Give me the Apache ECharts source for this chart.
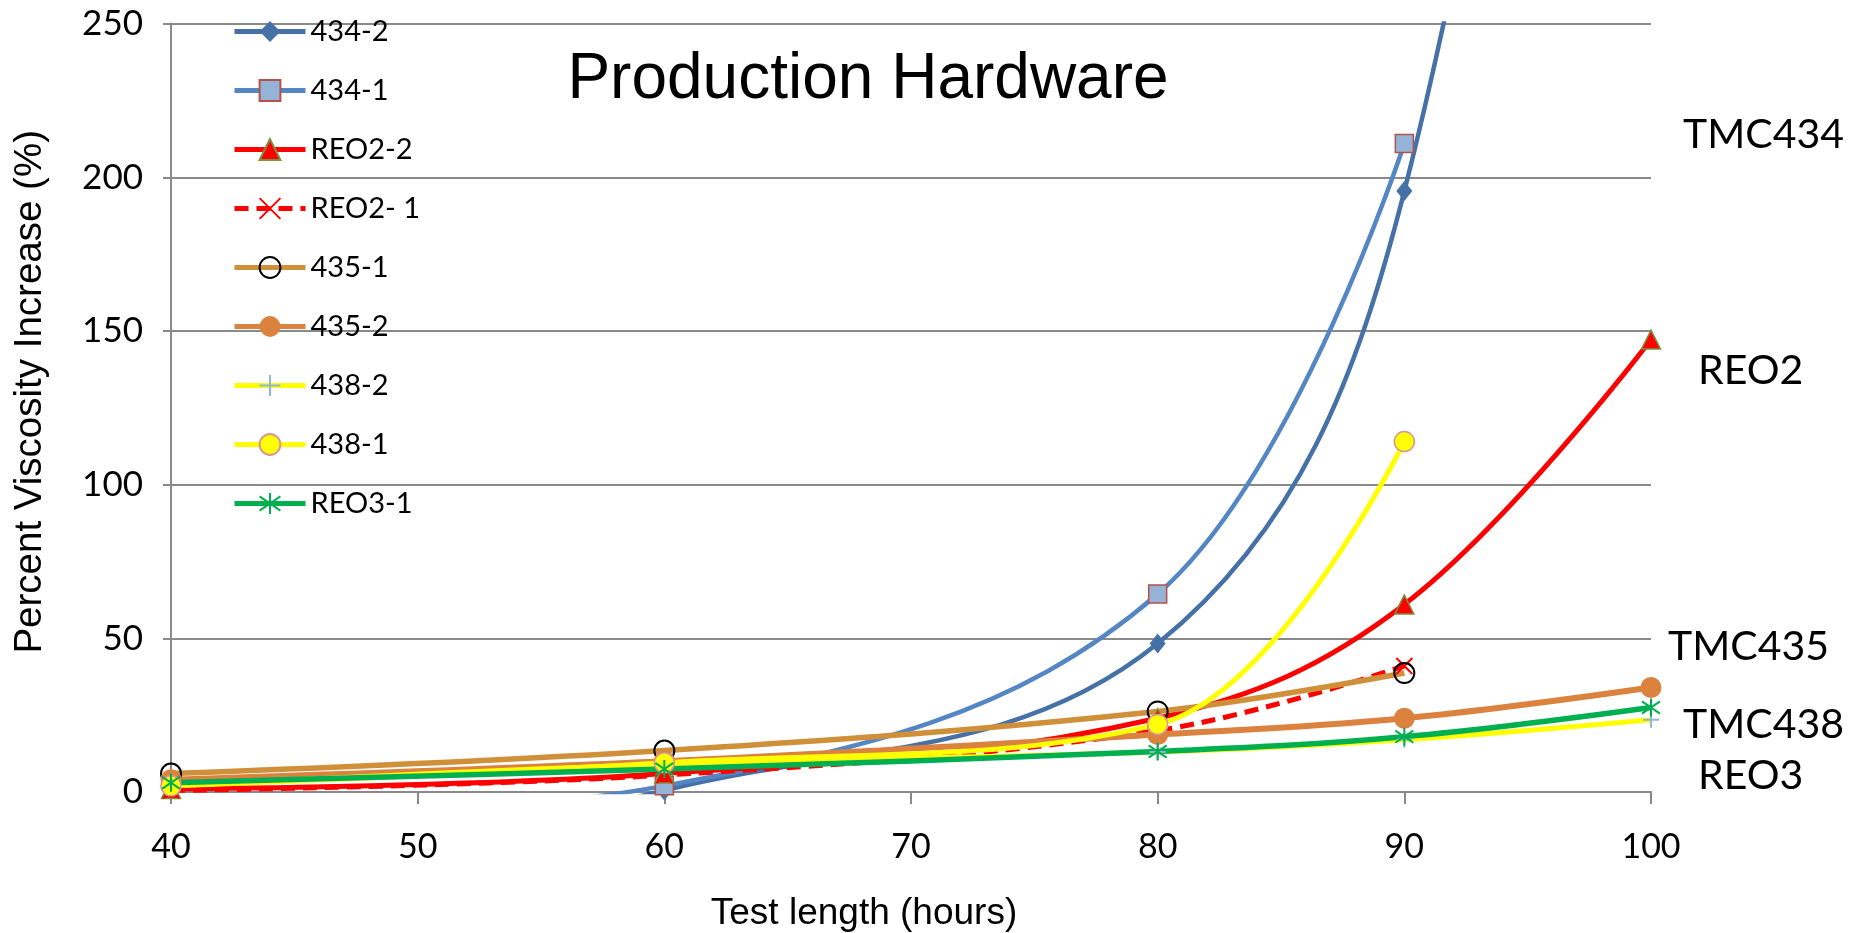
<!DOCTYPE html>
<html>
<head>
<meta charset="utf-8">
<script src="https://cdn.jsdelivr.net/npm/echarts@6/dist/echarts.min.js"></script>
<style>html,body{margin:0;padding:0;background:#fff;}#c{width:1849px;height:933px;}</style>
</head>
<body>
<div id="c"></div>
<script>
// ---- data ----
const hours = [40, 60, 80, 90, 100];
const yTicks = [0, 50, 100, 150, 200, 250];
const names = ['434-2', '434-1', 'REO2-2', 'REO2- 1', '435-1', '435-2', '438-2', '438-1', 'REO3-1'];
const v434_2  = [-30, 0.5, 48.3, 195.5, 680];
const v434_1  = [-9, 2, 64.4, 211, null];
const vREO2_2 = [1, 6, 24, 61, 147.2];
const vREO2_1 = [0.5, 5.5, 20, 41, null];
const v435_1  = [6, 13.5, 26.2, 38.7, null];
const v435_2  = [4, 10, 18.7, 24, 34];
const v438_2  = [2, 9, 13, 17, 23.5];
const v438_1  = [2, 9.5, 22, 114, null];
const vREO3_1 = [3, 7.5, 13.2, 18, 27.5];
const groupLabels = ['TMC434', 'REO2', 'TMC435', 'TMC438', 'REO3'];
const titleText = 'Production Hardware';

function pairs(arr) {
  return hours.map((h, i) => [h, arr[i]]).filter(p => p[1] !== null);
}

const X_PATH = 'path://M0,0L10,10M10,0L0,10';
const AST_PATH = 'path://M5,0L5,10M0.6,1.6L9.4,8.4M9.4,1.6L0.6,8.4';
const PLUS_PATH = 'path://M5,0L5,10M0,5L10,5';
const SM = 0.38;

function mk(name, data, lineColor, lineWidth, symbol, symbolSize, itemStyle, lineType) {
  return {
    name: name, type: 'line', data: pairs(data), smooth: SM,
    symbol: symbol, symbolSize: symbolSize, showAllSymbol: true,
    lineStyle: {color: lineColor, width: lineWidth, type: lineType || 'solid'},
    itemStyle: itemStyle, clip: true,
    emphasis: {disabled: true}
  };
}

const series = [
  mk(names[0], v434_2, '#4671A6', 4.5, 'diamond', [16, 20], {color: '#4671A6'}),
  mk(names[1], v434_1, '#5586C4', 4.5, 'rect', 18, {color: '#95B3D7', borderColor: '#B5504C', borderWidth: 1.5}),
  mk(names[2], vREO2_2, '#FF0000', 5, 'triangle', 19, {color: '#FF0000', borderColor: '#77933C', borderWidth: 1.5}),
  mk(names[3], vREO2_1, '#FF0000', 5, X_PATH, 16, {color: 'rgba(0,0,0,0)', borderColor: '#FF0000', borderWidth: 2}, [14, 8]),
  mk(names[4], v435_1, '#D0903A', 5.5, 'circle', 20, {color: 'rgba(0,0,0,0)', borderColor: '#000000', borderWidth: 2}),
  mk(names[5], v435_2, '#DB823F', 6, 'circle', 21, {color: '#DB823F'}),
  mk(names[6], v438_2, '#FFFF00', 5, PLUS_PATH, 16, {color: 'rgba(0,0,0,0)', borderColor: '#8EB4E3', borderWidth: 2}),
  mk(names[7], v438_1, '#FFFF00', 5, 'circle', 20, {color: '#FFFF00', borderColor: '#D99694', borderWidth: 1.5}),
  mk(names[8], vREO3_1, '#00B050', 5.5, AST_PATH, 18, {color: 'rgba(0,0,0,0)', borderColor: '#00B050', borderWidth: 2})
];

const labelPos = [[1683, 138], [1698, 374], [1668, 650], [1683, 728], [1698, 779]];
const graphics = groupLabels.map((t, i) => ({
  type: 'text', left: labelPos[i][0], top: labelPos[i][1] - 24,
  style: {text: t, fontFamily: 'Lato', fontSize: 41, fill: '#000'}
}));
graphics.push({
  type: 'text', x: 868, y: 80,
  style: {text: titleText, fontFamily: 'Liberation Sans', fontSize: 64, fill: '#000', align: 'center', verticalAlign: 'middle'}
});

const chart = echarts.init(document.getElementById('c'), null, {renderer: 'canvas'});
chart.setOption({
  animation: false,
  backgroundColor: '#fff',
  grid: {left: 171, right: 198, top: 23.6, bottom: 141, containLabel: false, outerBoundsMode: 'none'},
  legend: {
    data: names, orient: 'vertical', left: 232, top: 17, padding: 0,
    itemWidth: 71, itemHeight: 26, itemGap: 30,
    lineStyle: {width: 5},
    textStyle: {fontFamily: 'Lato', fontSize: 29, lineHeight: 26, color: '#000'},
    selectedMode: false
  },
  xAxis: {
    type: 'value', min: hours[0], max: hours[hours.length - 1], interval: 10,
    name: 'Test length (hours)', nameLocation: 'middle', nameGap: 103,
    nameTextStyle: {fontFamily: 'Liberation Sans', fontSize: 37, color: '#000', padding: [0, 94, 0, 0]},
    axisLine: {lineStyle: {color: '#898989', width: 2}},
    axisTick: {show: true, length: 12, lineStyle: {color: '#898989', width: 2}},
    axisLabel: {fontFamily: 'Lato', fontSize: 34, color: '#000', margin: 38},
    splitLine: {show: false}
  },
  yAxis: {
    type: 'value', min: yTicks[0], max: yTicks[yTicks.length - 1], interval: 50,
    name: 'Percent Viscosity Increase (%)', nameLocation: 'middle', nameGap: 121, nameRotate: 90,
    nameTextStyle: {fontFamily: 'Liberation Sans', fontSize: 38.5, color: '#000', padding: [0, 0, 0, 32]},
    axisLine: {show: true, lineStyle: {color: '#898989', width: 2}},
    axisTick: {show: true, length: 8, lineStyle: {color: '#898989', width: 2}},
    axisLabel: {fontFamily: 'Lato', fontSize: 35, color: '#000', margin: 28},
    splitLine: {show: true, lineStyle: {color: '#898989', width: 2}}
  },
  graphic: graphics,
  series: series
});
</script>
</body>
</html>
